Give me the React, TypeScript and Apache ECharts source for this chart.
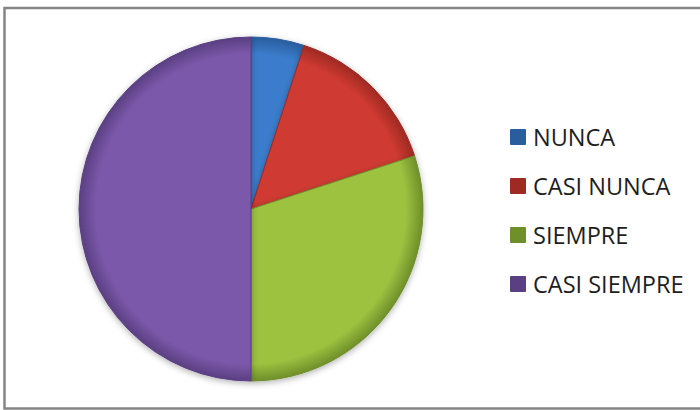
import React, { useEffect, useRef } from "react";
import * as echarts from "echarts";

const categories = ["NUNCA", "CASI NUNCA", "SIEMPRE", "CASI SIEMPRE"];
const values = [5, 15, 30, 50];
const baseColors = ["#3a7dcc", "#cf3a31", "#9cc240", "#7c59ab"];
const edgeColors = ["#2a5d9e", "#9e2a23", "#6f8f2a", "#5a3f82"];

const CX = 251;
const CY = 209;
const R = 172;

export default function App() {
  const ref = useRef<HTMLDivElement>(null);
  useEffect(() => {
    if (!ref.current) return;
    const chart = echarts.init(ref.current, undefined, { renderer: "svg" });
    const data = categories.map((name, i) => ({
      name,
      value: values[i],
      itemStyle: {
        color: {
          type: "radial",
          x: CX,
          y: CY,
          r: R,
          global: true,
          colorStops: [
            { offset: 0, color: baseColors[i] },
            { offset: 0.9, color: baseColors[i] },
            { offset: 1, color: edgeColors[i] },
          ],
        },
        borderColor: edgeColors[i],
        borderWidth: 1,
      },
    }));
    chart.setOption({
      animation: false,
      backgroundColor: "#ffffff",
      color: baseColors,
      graphic: [
        {
          type: "polyline",
          shape: {
            points: [
              [705, 8],
              [4.5, 8],
              [4.5, 408.5],
              [705, 408.5],
            ],
          },
          style: { fill: "none", stroke: "#858585", lineWidth: 2.5 },
          z: 100,
        },
      ],
      legend: {
        orient: "vertical",
        left: 510,
        top: 125,
        padding: 0,
        icon: "rect",
        itemWidth: 14,
        itemHeight: 14,
        itemGap: 25,
        data: categories,
        textStyle: {
          fontFamily: "Open Sans",
          fontSize: 23.5,
          lineHeight: 22,
          color: "#1e1e1e",
          padding: [0, 0, 0, 3],
        },
      },
      series: [
        {
          type: "pie",
          center: [CX, CY],
          radius: R,
          startAngle: 90,
          clockwise: true,
          label: { show: false },
          labelLine: { show: false },
          emphasis: { disabled: true },
          itemStyle: {
            shadowBlur: 6,
            shadowColor: "rgba(0,0,0,0.3)",
            shadowOffsetY: 2,
          },
          data,
        },
      ],
    });
    return () => chart.dispose();
  }, []);
  return (
    <div
      ref={ref}
      style={{ position: "absolute", left: 0, top: 0, width: 700, height: 410 }}
    />
  );
}
